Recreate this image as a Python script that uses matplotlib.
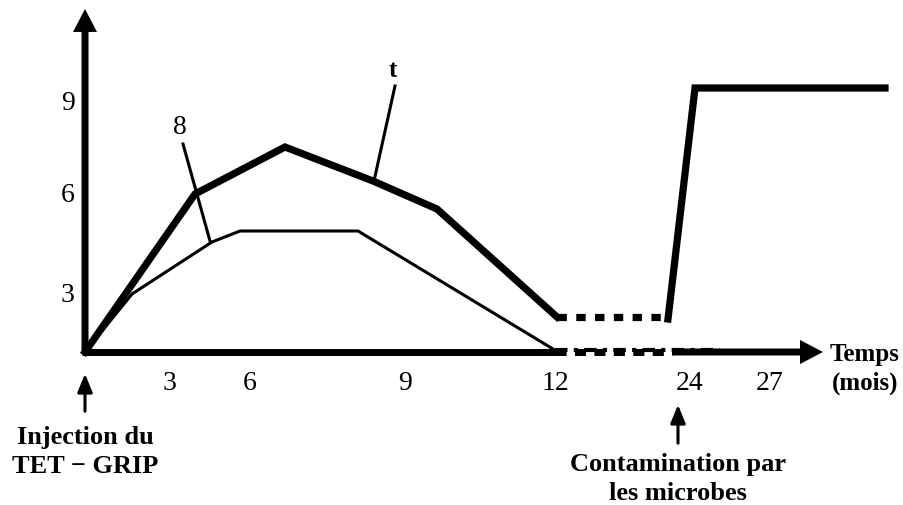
import matplotlib.pyplot as plt

# schematic units (the drawing is not to scale): origin of the axes = (0, 0)
t_x = [0, 110, 200, 288, 352, 472]
t_y = [0, 158, 205, 171, 143, 35]
t_dot_x = [472, 583]
t_dot_y = [35, 35]
t_rise_x = [583, 610, 800]
t_rise_y = [33, 264, 264]

h_x = [0, 47, 127, 155, 273, 468]
h_y = [0, 58, 110, 121, 121, 3]
h_dash_x = [470, 635]
h_dash_y = [2, 2]

xtick_pos = [85, 165, 320, 470, 605, 685]
xtick_lab = ["3", "6", "9", "12", "24", "27"]
ytick_pos = [250, 158, 58]
ytick_lab = ["9", "6", "3"]

plt.rcParams['font.family'] = ['Liberation Serif', 'DejaVu Serif']

fig = plt.figure(figsize=(9.04, 5.06), dpi=100)
ax = fig.add_axes([0, 0, 1, 1])
ax.set_xlim(-85, 819)
ax.set_ylim(-153, 353)
ax.axis("off")

# axes with arrow heads
ax.arrow(0, 0, 0, 343, width=7, head_width=24, head_length=23,
         length_includes_head=True, color="k", lw=0)
ax.plot([-3, 472], [0, 0], color="k", lw=5, solid_capstyle="butt")
ax.plot([470, 587], [0, 0], color="k", lw=5, linestyle=(0, (1.6, 1.2)), dash_capstyle="butt")
ax.arrow(587, 0, 151, 0, width=7, head_width=24, head_length=23,
         length_includes_head=True, color="k", lw=0)

# curve t (thick)
ax.plot(t_x, t_y, color="k", lw=5.2, solid_joinstyle="miter")
ax.plot(t_dot_x, t_dot_y, color="k", lw=5.2, linestyle=(0, (1.3, 1.3)), dash_capstyle="butt")
ax.plot(t_rise_x, t_rise_y, color="k", lw=5.2, solid_joinstyle="miter")

# curve 8 (thin)
ax.plot(h_x, h_y, color="k", lw=2.2)
ax.plot(h_dash_x, h_dash_y, color="k", lw=3, linestyle=(0, (3, 1.5, 1, 1.5)), dash_capstyle="butt")

# pointers and labels
ax.plot([98, 125], [208, 111], color="k", lw=2.2)
ax.text(95, 226, "8", fontsize=20, ha="center", va="center")
ax.plot([310, 289], [266, 171], color="k", lw=2.2)
ax.text(308, 283, "t", fontsize=18, fontweight="bold", ha="center", va="center")

for x, lab in zip(xtick_pos, xtick_lab):
    ax.text(x, -30, lab, fontsize=20, ha="center", va="center")
for y, lab in zip(ytick_pos, ytick_lab):
    ax.text(-17, y, lab, fontsize=20, ha="center", va="center")

ax.text(780, -16, "Temps\n(mois)", fontsize=18, fontweight="bold", ha="center",
        va="center", linespacing=1.3)

ax.annotate("", xy=(0, -19), xytext=(0, -62),
            arrowprops=dict(arrowstyle="-|>,head_length=1.1,head_width=0.45", color="k", lw=2.2))
ax.text(0, -99, "Injection du\nTET \u2212 GRIP", fontsize=19, fontweight="bold",
        ha="center", va="center", linespacing=1.35)

ax.annotate("", xy=(593, -50), xytext=(593, -94),
            arrowprops=dict(arrowstyle="-|>,head_length=1.1,head_width=0.45", color="k", lw=2.2))
ax.text(593, -126, "Contamination par\nles microbes", fontsize=19, fontweight="bold",
        ha="center", va="center", linespacing=1.3)

fig.savefig("out.png", dpi=100)
